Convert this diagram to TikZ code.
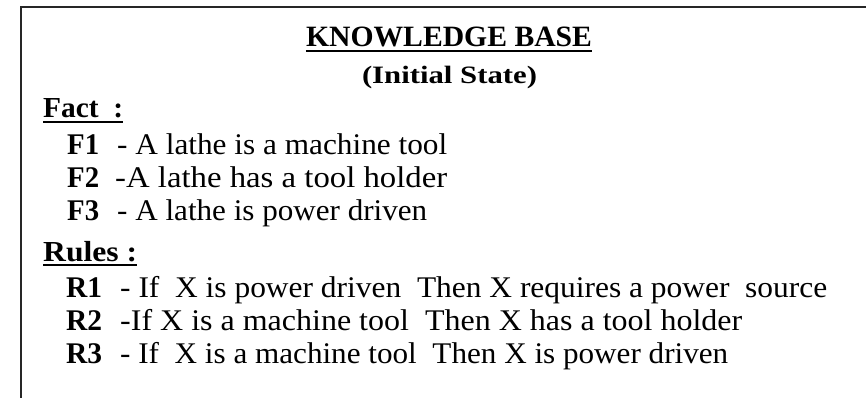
\documentclass[tikz,border=0pt]{standalone}
\usepackage{fontspec}
\setmainfont{Liberation Serif}
% stretch or squeeze a line of text to a given width, keeping its height
\newcommand\fitw[2]{\resizebox{#1}{\height}{#2}}
\begin{document}
\begin{tikzpicture}[x=1pt,y=-1pt,
  body/.style={anchor=base west,inner sep=0pt,font=\fontsize{30}{32}\selectfont},
  tag/.style={body,font=\fontsize{30}{32}\selectfont\bfseries},
  head/.style={body,font=\fontsize{29}{31}\selectfont\bfseries},
  frame/.style={line width=2pt,draw=black!85},
  uline/.style={line width=1.6pt}]
\useasboundingbox (0,0) rectangle (866,398);
\clip (0,0) rectangle (866,398);

% outer frame of the knowledge base panel
\draw[frame] (21,420) -- (21,7) -- (900,7);

% heading
\node[anchor=base,inner sep=0pt,font=\fontsize{29.5}{32}\selectfont\bfseries]
  (kb) at (449,47) {\fitw{286pt}{KNOWLEDGE BASE}};
\draw[uline] ([yshift=-4pt]kb.base west) -- ([yshift=-4pt]kb.base east);
\node[anchor=base,inner sep=0pt,font=\fontsize{25}{28}\selectfont\bfseries]
  (init) at (449.5,84) {\fitw{175pt}{(Initial State)}};

% facts
\node[head] (fact) at (43,118) {\fitw{80pt}{Fact\ \ :}};
\draw[uline] ([yshift=-4pt]fact.base west) -- ([yshift=-4pt]fact.base east);
\node[tag] (f1) at (67,154) {\fitw{32pt}{F1}};
\node[body] (f1t) at (117,154) {\fitw{330pt}{- A lathe is a machine tool}};
\node[tag] (f2) at (67,187) {\fitw{32pt}{F2}};
\node[body] (f2t) at (115,187) {\fitw{332pt}{-A lathe has a tool holder}};
\node[tag] (f3) at (67,220) {\fitw{32pt}{F3}};
\node[body] (f3t) at (117,220) {\fitw{310pt}{- A lathe is power driven}};

% rules
\node[head] (rules) at (43,261) {\fitw{94pt}{Rules :}};
\draw[uline] ([yshift=-4pt]rules.base west) -- ([yshift=-4pt]rules.base east);
\node[tag] (r1) at (66,297) {\fitw{36pt}{R1}};
\node[body] (r1t) at (120,297) {\fitw{707pt}{- If\ \ X is power driven\ \ Then X requires a power\ \ source}};
\node[tag] (r2) at (66,330) {\fitw{36pt}{R2}};
\node[body] (r2t) at (120,330) {\fitw{622pt}{-If X is a machine tool\ \ Then X has a tool holder}};
\node[tag] (r3) at (66,363) {\fitw{36pt}{R3}};
\node[body] (r3t) at (120,363) {\fitw{608pt}{- If\ \ X is a machine tool\ \ Then X is power driven}};
\end{tikzpicture}
\end{document}
